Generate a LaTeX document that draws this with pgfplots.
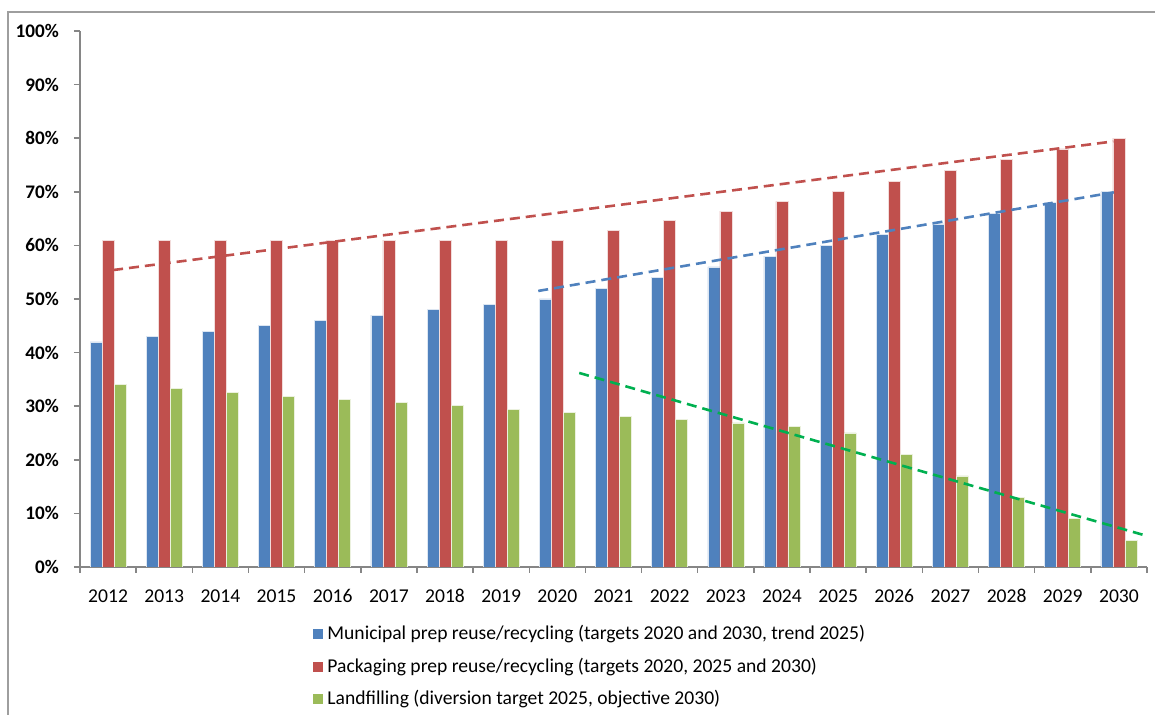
\documentclass[border=0pt]{standalone}
\usepackage{pgfplots}
\pgfplotsset{compat=1.18}
\usepackage{fontspec}
\setmainfont{Carlito}

\definecolor{mblue}{HTML}{4F81BD}
\definecolor{pred}{HTML}{C0504D}
\definecolor{lgreen}{HTML}{9BBB59}
\definecolor{tgreen}{HTML}{00B050}
\definecolor{axgray}{HTML}{868686}

% Rates in percent; x = year index (0 = 2012)
\pgfplotstableread{
x  mun  pack  land
0  42   61    34.0
1  43   61    33.3
2  44   61    32.6
3  45   61    31.9
4  46   61    31.3
5  47   61    30.7
6  48   61    30.1
7  49   61    29.4
8  50   61    28.8
9  52   62.8  28.1
10 54   64.6  27.6
11 56   66.4  26.9
12 58   68.2  26.2
13 60   70    25.0
14 62   72    21.0
15 64   74    17.0
16 66   76    13.0
17 68   78    9.0
18 70   80    5.0
}\rates

\begin{document}
\begin{tikzpicture}
\useasboundingbox (0,0) rectangle (577.5pt,357.5pt);
\draw[axgray!80, line width=0.75pt] (4pt,-2pt) -- (4pt,351.5pt) -- (580pt,351.5pt);
\begin{axis}[
  at={(40pt,74pt)}, anchor=south west,
  scale only axis, width=533.5pt, height=268pt,
  xmin=-0.5, xmax=18.5, ymin=0, ymax=100,
  axis x line*=bottom, axis y line*=left,
  axis line style={axgray, line width=0.75pt, -},
  tick align=outside,
  major tick length=3pt, minor tick length=3pt,
  xtick={0,...,18},
  xticklabels={2012,2013,2014,2015,2016,2017,2018,2019,2020,2021,2022,2023,2024,2025,2026,2027,2028,2029,2030},
  minor xtick={-0.5,0.5,...,18.5},
  major x tick style={draw=none},
  minor x tick style={axgray, line width=0.75pt},
  ytick={0,10,...,100},
  ytick style={axgray, line width=0.75pt},
  /pgf/number format/assume math mode=true,
  yticklabel={\pgfmathprintnumber{\tick}\%},
  yticklabel style={font=\fontsize{9.6}{11}\selectfont\bfseries, xshift=-4pt},
  xticklabel style={font=\fontsize{9.8}{11}\selectfont, text height=7pt, text depth=0pt, yshift=-4pt},
  legend style={at={(axis description cs:0.2184,-0.101)}, anchor=north west,
    draw=none, fill=none, font=\fontsize{9.8}{11}\selectfont, row sep=3.6pt,
    inner sep=0pt},
  legend cell align=left,
  legend image code/.code={\fill[#1, draw=none] (0pt,-2.5pt) rectangle (5pt,2.5pt);},
]
\addplot[ybar, bar width=6pt, bar shift=-6pt, fill=mblue, draw=white!80!mblue, line width=0.3pt]
  table[x=x, y=mun]{\rates};
\addlegendentry{Municipal prep reuse/recycling (targets 2020 and 2030, trend 2025)}
\addplot[ybar, bar width=6pt, bar shift=0pt, fill=pred, draw=white!80!pred, line width=0.3pt]
  table[x=x, y=pack]{\rates};
\addlegendentry{Packaging prep reuse/recycling (targets 2020, 2025 and 2030)}
\addplot[ybar, bar width=6pt, bar shift=6pt, fill=lgreen, draw=white!80!lgreen, line width=0.3pt]
  table[x=x, y=land]{\rates};
\addlegendentry{Landfilling (diversion target 2025, objective 2030)}

% dashed trend lines
\addplot[forget plot, pred, line width=1.3pt, dash pattern=on 5pt off 3pt]
  coordinates {(0.09,55.4) (17.9,79.4)};
\addplot[forget plot, mblue, line width=1.3pt, dash pattern=on 5pt off 3pt]
  coordinates {(7.66,51.5) (17.91,69.9)};
\addplot[forget plot, tgreen, line width=1.3pt, dash pattern=on 5pt off 3pt]
  coordinates {(8.39,36.2) (18.43,6.0)};
\end{axis}
\end{tikzpicture}
\end{document}
